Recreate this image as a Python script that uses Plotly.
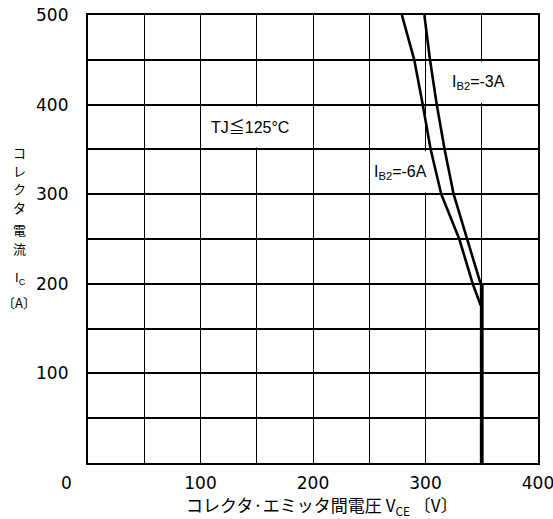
import plotly.graph_objects as go

# Data
vce_ib3 = [299, 304, 310, 317, 325, 337, 349]
ic_ib3 = [500, 450, 400, 350, 300, 250, 200]
vce_ib6 = [279, 290, 297.5, 304.6, 314, 330, 342, 349]
ic_ib6 = [500, 450, 400, 350, 300, 250, 200, 176]
vce_limit = [350, 350]
ic_limit = [200, 0]

x_ticks = [100, 200, 300, 400]
y_ticks = [100, 200, 300, 400, 500]

FONT = "DejaVu Sans, Noto Sans CJK JP, sans-serif"
LFONT = "Liberation Sans, Noto Sans CJK JP, sans-serif"
JP = "Noto Sans CJK JP, sans-serif"

fig = go.Figure()
fig.add_trace(go.Scatter(x=vce_ib3, y=ic_ib3, mode="lines",
                         line=dict(color="black", width=2.6), showlegend=False))
fig.add_trace(go.Scatter(x=vce_ib6, y=ic_ib6, mode="lines",
                         line=dict(color="black", width=2.6), showlegend=False))
fig.add_trace(go.Scatter(x=vce_limit, y=ic_limit, mode="lines",
                         line=dict(color="black", width=3.8), showlegend=False))

# white label backgrounds that hide the grid (between grid and traces)
for (x0, x1, y0, y1) in [(103, 197, 352, 398), (303, 397, 402, 448), (252, 348, 302, 348)]:
    fig.add_shape(type="rect", xref="x", yref="y", x0=x0, x1=x1, y0=y0, y1=y1,
                  fillcolor="white", line=dict(width=0), layer="between")

fig.add_annotation(x=144, y=374, text="TJ≦125°C", showarrow=False,
                   xanchor="center", yanchor="middle",
                   font=dict(family=LFONT, size=16, color="black"))
fig.add_annotation(x=347, y=425, text="I<sub>B2</sub>=-3A", showarrow=False,
                   xanchor="center", yanchor="middle",
                   font=dict(family=LFONT, size=16, color="black"))
fig.add_annotation(x=278, y=324, text="I<sub>B2</sub>=-6A", showarrow=False,
                   xanchor="center", yanchor="middle",
                   font=dict(family=LFONT, size=16, color="black"))

PH = 448.0  # plot height in px
PW = 450.0  # plot width in px


def py(p):
    return (463 - p) / PH


def px(p):
    return (p - 88) / PW


def label(xp, yp, text, family, size):
    fig.add_annotation(xref="paper", yref="paper", x=px(xp), y=py(yp), text=text,
                       showarrow=False, xanchor="center", yanchor="middle",
                       borderpad=0,
                       font=dict(family=family, size=size, color="black"))


# origin label
label(66, 483, "0", FONT, 17)

# y-axis title (vertical stacked characters)
ytitle_chars = ["コ", "レ", "ク", "タ", "電", "流"]
ytitle_pos = [152, 170, 188, 207, 229, 248]
for ch, p in zip(ytitle_chars, ytitle_pos):
    label(19, p, ch, JP, 13)
label(20, 278, "I<sub>C</sub>", LFONT, 13)
label(19, 302, "〔A〕", JP, 13)

# x-axis title
label(322, 505, "コレクタ·エミッタ間電圧 V<sub>CE</sub> 〔V〕", JP, 17)

fig.update_xaxes(range=[0, 400], tickvals=x_ticks, showgrid=True, gridcolor="black",
                 gridwidth=1.4, zeroline=False, showline=True, linecolor="black",
                 linewidth=2.2, mirror=True, ticks="", ticklabelstandoff=3,
                 automargin=False, ticklabeloverflow="allow",
                 minor=dict(tickvals=[50, 150, 250, 350], showgrid=True,
                            gridcolor="black", gridwidth=1.1),
                 tickfont=dict(family=FONT, size=17, color="black"))
fig.update_yaxes(range=[0, 500], tickvals=y_ticks, showgrid=True, gridcolor="black",
                 gridwidth=1.8, zeroline=False, showline=True, linecolor="black",
                 linewidth=2.2, mirror=True, ticks="", ticklabelstandoff=14,
                 automargin=False, ticklabeloverflow="allow",
                 minor=dict(tickvals=[50, 150, 250, 350, 450], showgrid=True,
                            gridcolor="black", gridwidth=1.8),
                 tickfont=dict(family=FONT, size=17, color="black"))

fig.update_layout(width=553, height=519, margin=dict(l=88, r=15, t=15, b=56),
                  plot_bgcolor="white", paper_bgcolor="white", showlegend=False)

fig.write_html("out.html", config={"displayModeBar": False},
               post_script="document.body.style.margin='0';document.body.style.overflow='hidden';")
